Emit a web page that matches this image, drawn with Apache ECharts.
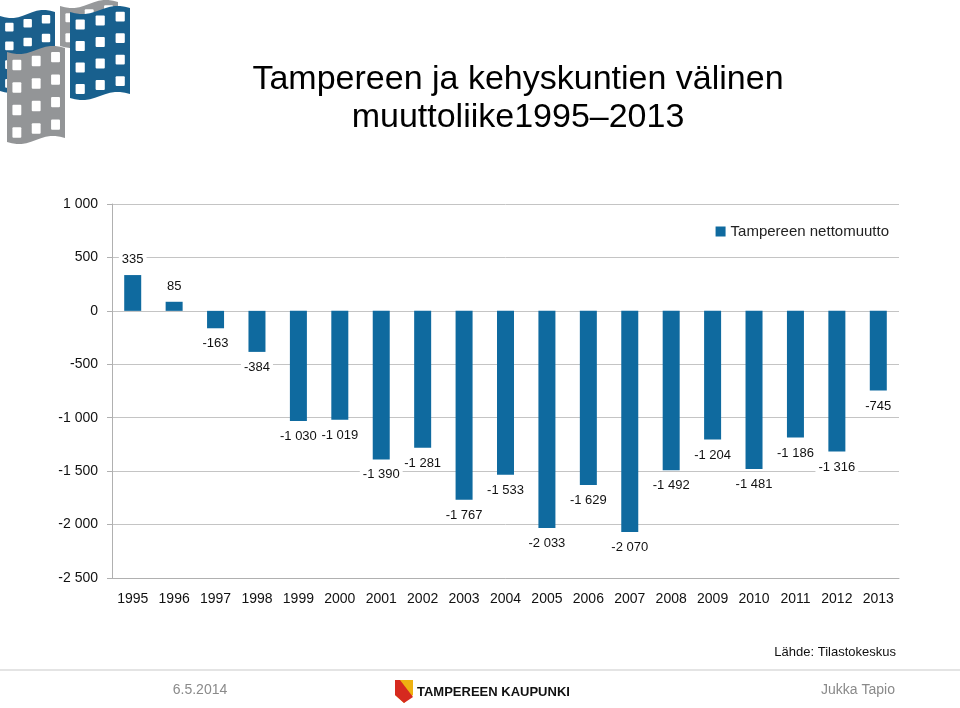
<!DOCTYPE html>
<html>
<head>
<meta charset="utf-8">
<script src="https://cdn.jsdelivr.net/npm/echarts@6/dist/echarts.min.js"></script>
<style>html,body{margin:0;padding:0;background:#fff}#c{width:960px;height:708px}</style>
</head>
<body>
<div id="c"></div>
<script>
const categories = ['1995','1996','1997','1998','1999','2000','2001','2002','2003','2004','2005','2006','2007','2008','2009','2010','2011','2012','2013'];
const nettomuutto = [335, 85, -163, -384, -1030, -1019, -1390, -1281, -1767, -1533, -2033, -1629, -2070, -1492, -1204, -1481, -1186, -1316, -745];
const yTicks = {min: -2500, max: 1000, interval: 500};

function fmt(v){
  const s = Math.abs(v).toString().replace(/\B(?=(\d{3})+(?!\d))/g, ' ');
  return (v < 0 ? '-' : '') + s;
}

// decorative logo (top-left): wavy "flag" blocks with windows
const logo = [];
function block(x, y, w, h, color, cols, rows){
  const pts = [];
  const n = 12;
  for (let i=0;i<=n;i++){ const t=i/n; pts.push([x+t*w, y+Math.sin(t*Math.PI*2)*3 + (1-t)*4]); }
  for (let i=n;i>=0;i--){ const t=i/n; pts.push([x+t*w, y+h+Math.sin(t*Math.PI*2)*3 + (1-t)*4]); }
  logo.push({type:'polygon', shape:{points:pts}, style:{fill:color}});
  const cw = w/cols, rh = h/rows;
  for (let i=0;i<cols;i++) for (let j=0;j<rows;j++){
    const t = (i+0.5)/cols;
    const dy = Math.sin(t*Math.PI*2)*3 + (1-t)*4;
    logo.push({type:'rect', shape:{x:x+i*cw+cw*0.28, y:y+dy+j*rh+rh*0.26, width:cw*0.46, height:rh*0.46, r:1}, style:{fill:'#fff'}});
  }
}
block(65, 0, 58, 40, '#97999b', 3, 2);
block(5, 10, 55, 75, '#1b5f8c', 3, 4);
block(75, 6, 60, 86, '#18608e', 3, 4);
block(12, 46, 58, 90, '#939597', 3, 4);

const FONT = 'Liberation Sans, Arial, sans-serif';
const chart = echarts.init(document.getElementById('c'), null, {renderer:'canvas'});
chart.setOption({
  animation: false,
  textStyle: {fontFamily: FONT},
  title: {
    text: 'Tampereen ja kehyskuntien välinen\nmuuttoliike1995–2013',
    left: 513, top: 56, textAlign: 'center',
    textStyle: {fontSize: 34, fontWeight: 'normal', color: '#000', lineHeight: 38, fontFamily: FONT}
  },
  legend: {
    right: 66, top: 219,
    itemWidth: 10, itemHeight: 10, itemGap: 5,
    icon: 'rect',
    textStyle: {fontSize: 15, color: '#222'},
    data: ['Tampereen nettomuutto']
  },
  grid: {left: 112, right: 61, top: 204, bottom: 130, containLabel: false},
  xAxis: {
    type: 'category',
    data: categories,
    position: 'bottom',
    axisLine: {show: true, onZero: false, lineStyle: {color: '#b0b0b0', width: 1}},
    axisTick: {show: false},
    axisLabel: {fontSize: 14, color: '#111', margin: 14}
  },
  yAxis: {
    type: 'value',
    min: yTicks.min, max: yTicks.max, interval: yTicks.interval,
    axisLine: {show: true, lineStyle: {color: '#b0b0b0'}},
    axisTick: {show: true, length: 5, lineStyle: {color: '#b0b0b0'}},
    splitLine: {show: true, lineStyle: {color: '#c4c4c4', width: 1}},
    axisLabel: {fontSize: 14, color: '#111', margin: 14, formatter: fmt}
  },
  series: [{
    name: 'Tampereen nettomuutto',
    type: 'bar',
    barWidth: 17,
    itemStyle: {color: '#0f6a9f'},
    data: nettomuutto.map(v => ({
      value: v,
      label: {position: v < 0 ? 'bottom' : 'top'}
    })),
    label: {
      show: true, fontSize: 13, color: '#111', distance: 8,
      backgroundColor: '#fff', padding: [1, 3],
      formatter: p => fmt(p.value)
    }
  }],
  graphic: [
    {type: 'group', left: 0, top: 0, children: logo},
    {type: 'text', x: 896, y: 652, style: {text: 'Lähde: Tilastokeskus', fontSize: 13, fill: '#111', textAlign: 'right', textVerticalAlign: 'middle', fontFamily: FONT}},
    {type: 'line', shape: {x1: 0, y1: 670, x2: 960, y2: 670}, style: {stroke: '#e4e4e4', lineWidth: 2}},
    {type: 'text', x: 200, y: 690, style: {text: '6.5.2014', fontSize: 14, fill: '#8a8a8a', textAlign: 'center', textVerticalAlign: 'middle', fontFamily: FONT}},
    {type: 'polygon', shape: {points: [[395,680],[413,680],[413,695],[404,703],[395,695]]}, style: {fill: '#eeb111'}},
    {type: 'polygon', shape: {points: [[395,680],[400,680],[413,697],[404,703],[395,695]]}, style: {fill: '#d62a1f'}},
    {type: 'text', x: 417, y: 692, style: {text: 'TAMPEREEN KAUPUNKI', fontSize: 13, fontWeight: 'bold', fill: '#111', textVerticalAlign: 'middle', fontFamily: 'Liberation Sans Narrow, Liberation Sans, Arial, sans-serif'}},
    {type: 'text', x: 858, y: 690, style: {text: 'Jukka Tapio', fontSize: 14, fill: '#8a8a8a', textAlign: 'center', textVerticalAlign: 'middle', fontFamily: FONT}}
  ]
});
</script>
</body>
</html>
